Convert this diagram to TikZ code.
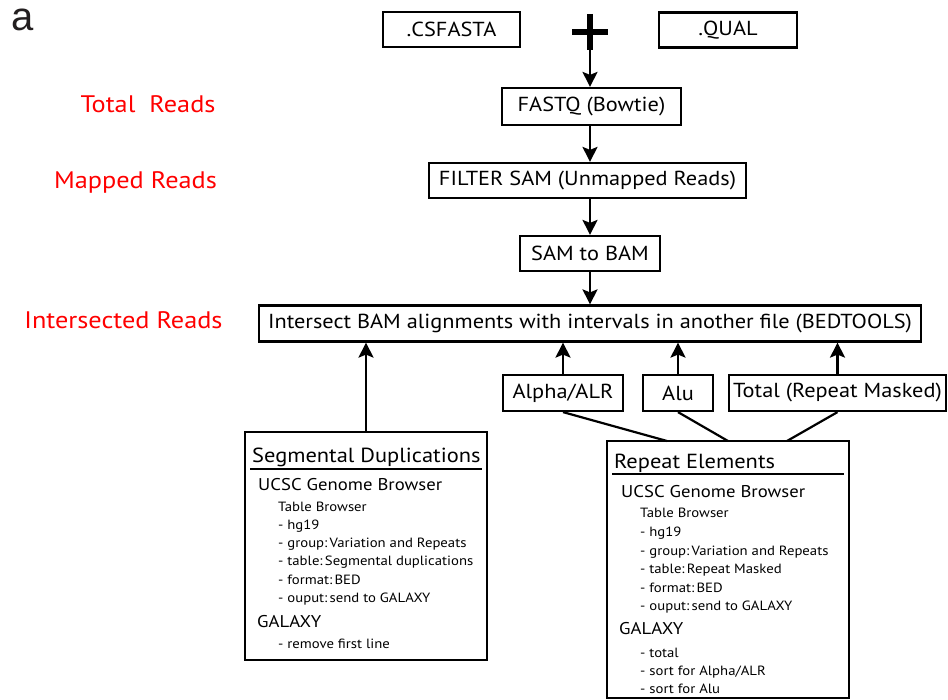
\documentclass[tikz,border=0pt]{standalone}
\usepackage{fontspec}
\setmainfont{PT Sans}[FakeStretch=1.1]
\newfontfamily\helv{Liberation Sans}
\usetikzlibrary{arrows.meta}
\definecolor{lblred}{RGB}{255,0,0}
\definecolor{darkgr}{RGB}{35,31,32}
\tikzset{
  box/.style={draw, line width=2.2pt, inner sep=0pt, font=\fontsize{20.3}{24}\selectfont},
  bigbox/.style={draw, line width=2.2pt, inner sep=0pt},
  arr/.style={line width=2.2pt, -{Stealth[length=15pt,width=15pt,inset=3pt]}},
  ln/.style={line width=2.2pt},
  redlbl/.style={text=lblred, inner sep=0pt, font=\fontsize{23.9}{28}\selectfont},
  ttl/.style={anchor=base west, inner sep=0pt, font=\fontsize{20.4}{25}\selectfont},
  sub/.style={anchor=base west, inner sep=0pt, font=\fontsize{17}{21}\selectfont},
  itm/.style={anchor=base west, inner sep=0pt, font=\fontsize{13.4}{17}\selectfont},
}
\begin{document}
\begin{tikzpicture}[x=1pt,y=-1pt]
\useasboundingbox (0,0) rectangle (948,700);
\node[anchor=base west, inner sep=0pt, text=darkgr, font=\helv\fontsize{40}{44}\selectfont] (a) at (11,31) {a};

% top boxes
\node[box, minimum width=137, minimum height=35] (csf) at (451.5,29.5) {.CSFASTA};
\node[box, minimum width=138, minimum height=35] (qual) at (728,30) {.QUAL};
\coordinate (plus) at (590,32);
\draw[line width=6pt] (572,32) -- (608,32);
\draw[line width=6pt] (590,14) -- (590,50);
\coordinate (plusbot) at (590,50);

\node[box, minimum width=179, minimum height=37] (fastq) at (591.5,106.5) {FASTQ (Bowtie)};
\node[box, minimum width=317, minimum height=35] (filter) at (587.5,180.5) {FILTER SAM (Unmapped Reads)};
\node[box, minimum width=140, minimum height=35] (sam) at (590,253.5) {SAM to BAM};
\node[box, minimum width=662, minimum height=36] (inter) at (590,323.5) {Intersect BAM alignments with intervals in another file (BEDTOOLS)};

\draw[arr] (plusbot) -- (plusbot |- fastq.north);
\draw[arr] (fastq.south -| plusbot) -- (plusbot |- filter.north);
\draw[arr] (filter.south -| plusbot) -- (plusbot |- sam.north);
\draw[arr] (sam.south -| plusbot) -- (plusbot |- inter.north);

% red labels
\node[redlbl, anchor=base] (tr) at (148,113) {Total\ \ Reads};
\node[redlbl, anchor=base] (mr) at (135.5,188.5) {Mapped Reads};
\node[redlbl, anchor=base] (ir) at (123.5,328.5) {Intersected Reads};

% repeat class boxes
\node[box, minimum width=120, minimum height=36] (alpha) at (563,393) {Alpha/ALR};
\node[box, minimum width=70, minimum height=36] (alu) at (678,393) {Alu};
\node[box, minimum width=217, minimum height=36] (total) at (837.5,393) {Total (Repeat Masked)};
\draw[arr] (alpha.north) -- (alpha.north |- inter.south);
\draw[arr] (alu.north) -- (alu.north |- inter.south);
\draw[arr] (total.north) -- (total.north |- inter.south);

% segmental duplications box
\node[bigbox, minimum width=242, minimum height=228] (seg) at (366,546) {};
\draw[arr] (seg.north) -- (seg.north |- inter.south);
\node[ttl] (segt) at (252,462) {Segmental Duplications};
\draw[line width=1.8pt] (250,469) -- (482,469);
\node[sub] (segu) at (258,490) {UCSC Genome Browser};
\node[itm] (seg1) at (278,511) {Table Browser};
\node[itm] (seg2) at (278,529) {- hg19};
\node[itm] (seg3) at (278,547) {- group:\,Variation and Repeats};
\node[itm] (seg4) at (278,565.5) {- table:\,Segmental duplications};
\node[itm] (seg5) at (278,584) {- format:\,BED};
\node[itm] (seg6) at (278,602) {- ouput:\,send to GALAXY};
\node[sub] (segg) at (257,627) {GALAXY};
\node[itm] (seg7) at (278,648) {- remove first line};

% repeat elements box
\node[bigbox, minimum width=242, minimum height=257] (rep) at (728,569.5) {};
\coordinate (m1) at (667,441);
\coordinate (m2) at (728,441);
\coordinate (m3) at (787,441);
\draw[ln] (alpha.south) -- (m1);
\draw[ln] (alu.south) -- (m2);
\draw[ln] (total.south) -- (m3);
\node[ttl] (rept) at (614,468) {Repeat Elements};
\draw[line width=1.8pt] (612,474) -- (844,474);
\node[sub] (repu) at (621,497) {UCSC Genome Browser};
\node[itm] (rep1) at (640,517.5) {Table Browser};
\node[itm] (rep2) at (640,536.5) {- hg19};
\node[itm] (rep3) at (640,555) {- group:\,Variation and Repeats};
\node[itm] (rep4) at (640,573.5) {- table:\,Repeat Masked};
\node[itm] (rep5) at (640,592) {- format:\,BED};
\node[itm] (rep6) at (640,610.5) {- ouput:\,send to GALAXY};
\node[sub] (repg) at (619,634) {GALAXY};
\node[itm] (rep7) at (640,657) {- total};
\node[itm] (rep8) at (640,675.5) {- sort for Alpha/ALR};
\node[itm] (rep9) at (640,693.5) {- sort for Alu};
\end{tikzpicture}
\end{document}
